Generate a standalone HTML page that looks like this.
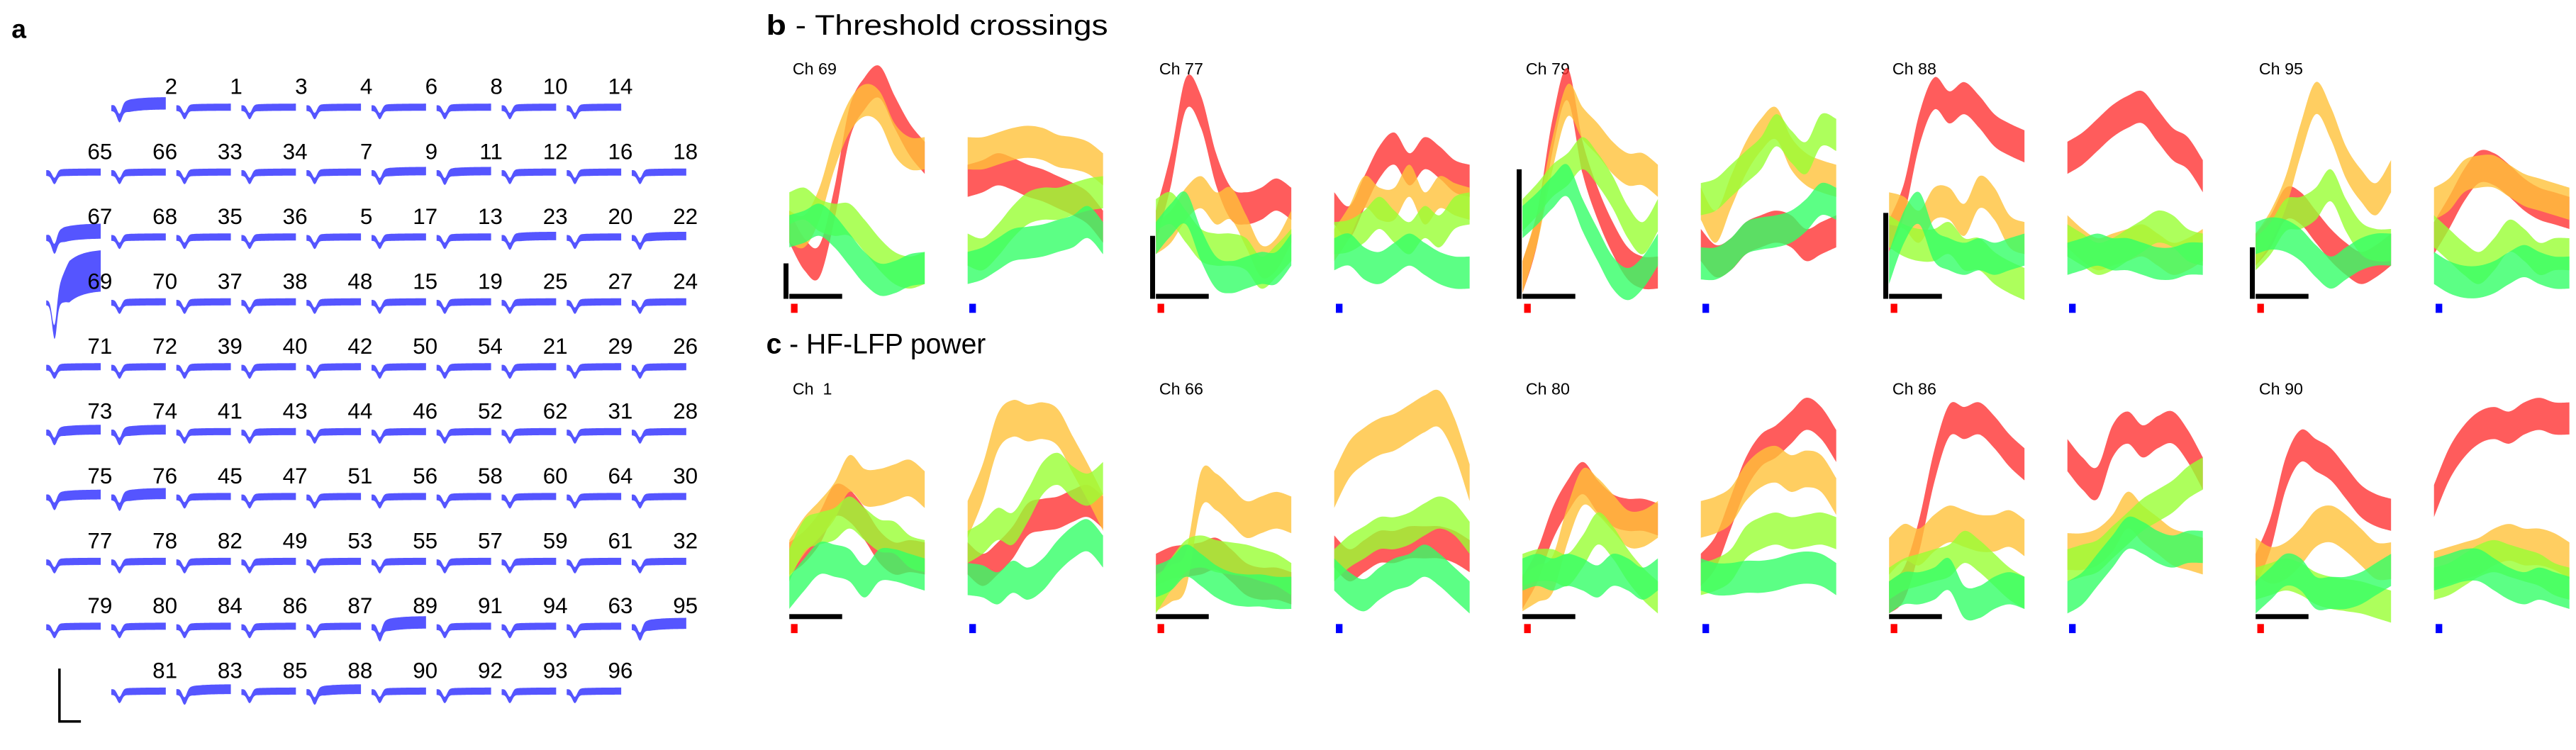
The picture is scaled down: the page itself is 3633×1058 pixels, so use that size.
<!DOCTYPE html>
<html><head><meta charset="utf-8">
<style>
html,body{margin:0;padding:0;background:#fff;}
svg{display:block;}
text{font-family:"Liberation Sans",sans-serif;fill:#000;white-space:pre;}
</style></head>
<body>
<svg id="fig" xmlns="http://www.w3.org/2000/svg" width="3633" height="1058" viewBox="0 0 1560 454.3">
  <text x="7" y="23" font-size="16" font-weight="bold">a</text>
  <text x="464" y="21" font-size="17" textLength="207" lengthAdjust="spacingAndGlyphs"><tspan font-weight="bold">b</tspan> - Threshold crossings</text>
  <text x="464" y="214" font-size="17" textLength="133" lengthAdjust="spacingAndGlyphs"><tspan font-weight="bold">c</tspan> - HF-LFP power</text>
  <g id="gridA"></g>
  <g id="panelB"></g>
  <g id="panelC"></g>
  <path d="M36 405 V437 H49" fill="none" stroke="#000" stroke-width="1.5"/>
</svg>
<script>
// ---------- Panel a: electrode layout ----------
const gridRow0 = [null,2,1,3,4,6,8,10,14,null];
const gridRow1 = [65,66,33,34,7,9,11,12,16,18];
const gridRow2 = [67,68,35,36,5,17,13,23,20,22];
const gridRow3 = [69,70,37,38,48,15,19,25,27,24];
const gridRow4 = [71,72,39,40,42,50,54,21,29,26];
const gridRow5 = [73,74,41,43,44,46,52,62,31,28];
const gridRow6 = [75,76,45,47,51,56,58,60,64,30];
const gridRow7 = [77,78,82,49,53,55,57,59,61,32];
const gridRow8 = [79,80,84,86,87,89,91,94,63,95];
const gridRow9 = [null,81,83,85,88,90,92,93,96,null];
// amplitude of slow component per channel (others default)
const bigAmpCh = [2,67,69,89,95,74,76,83,73,75,88,22,9,11,23];
const bigAmpVal = [5,7,20,5,4,3,4,3,3,3,3,2,2,2,2];

// ---------- Panel b: threshold crossings (values 0-100) ----------
const tcChannels = ["Ch 69","Ch 77","Ch 79","Ch 88","Ch 95"];
const tcScaleBar = [14,26,55,36,21];
const tc69_pre_red=[30,18,15,40,75,88,93,80,68,60];
const tc69_pre_yel=[30,28,40,62,78,85,82,68,62,62];
const tc69_pre_lim=[38,40,35,33,33,26,18,12,10,12];
const tc69_pre_grn=[28,30,33,28,20,12,7,8,11,12];
const tc69_post_red=[50,52,55,53,50,48,45,42,38,30];
const tc69_post_yel=[62,62,64,66,67,66,63,62,60,55];
const tc69_post_lim=[20,18,24,32,38,40,40,42,44,45];
const tc69_post_grn=[12,14,18,22,23,24,26,28,32,25];
const tc77_pre_red=[30,55,88,80,55,40,38,40,44,40];
const tc77_pre_yel=[25,30,40,45,38,40,28,15,18,30];
const tc77_pre_lim=[35,38,30,22,20,20,18,10,15,22];
const tc77_pre_grn=[25,33,38,22,10,8,10,12,12,20];
const tc77_post_red=[38,32,45,58,64,55,62,58,52,50];
const tc77_post_yel=[22,32,45,40,40,50,38,45,42,40];
const tc77_post_lim=[25,26,30,36,30,25,32,28,36,38];
const tc77_post_grn=[18,20,14,12,16,20,16,12,10,10];
const tc79_pre_red=[8,30,70,92,60,40,25,14,10,10];
const tc79_pre_yel=[8,30,62,85,75,68,60,55,55,50];
const tc79_pre_lim=[35,42,50,55,62,55,45,32,25,35];
const tc79_pre_grn=[32,38,45,50,35,22,10,5,10,20];
const tc79_post_red=[22,15,18,25,28,30,28,22,25,28];
const tc79_post_yel=[40,30,45,60,70,75,62,55,52,50];
const tc79_post_lim=[42,44,50,56,62,72,65,60,72,70];
const tc79_post_grn=[14,14,18,25,27,28,30,35,42,40];
const tc88_pre_red=[26,42,72,88,82,86,80,72,68,65];
const tc88_pre_yel=[38,36,30,40,40,33,45,40,28,25];
const tc88_pre_lim=[28,24,22,22,25,18,18,12,8,5];
const tc88_pre_grn=[12,30,38,22,18,16,18,16,18,20];
const tc88_post_red=[60,64,70,76,80,82,74,66,62,52];
const tc88_post_yel=[28,22,18,20,22,24,20,16,18,22];
const tc88_post_lim=[24,20,16,18,22,26,30,28,22,20];
const tc88_post_grn=[16,18,20,18,18,16,14,14,16,16];
const tc95_pre_red=[20,28,40,38,30,22,16,12,15,20];
const tc95_pre_yel=[20,30,45,68,86,75,58,48,42,52];
const tc95_pre_lim=[18,25,35,36,40,48,35,25,22,22];
const tc95_pre_grn=[25,27,26,22,15,10,14,18,20,20];
const tc95_post_red=[25,36,48,56,55,50,44,40,38,36];
const tc95_post_yel=[40,44,52,54,54,50,46,44,42,40];
const tc95_post_lim=[28,22,16,12,18,26,22,16,18,18];
const tc95_post_grn=[12,8,6,6,8,12,15,12,10,10];

// ---------- Panel c: HF-LFP power (values 0-100) ----------
const lfpChannels = ["Ch  1","Ch 66","Ch 80","Ch 86","Ch 90"];
const lf1_pre_red=[25,30,38,50,48,40,30,25,26,25];
const lf1_pre_yel=[25,35,42,50,62,56,56,58,60,55];
const lf1_pre_lim=[22,35,38,40,45,40,35,34,28,26];
const lf1_pre_grn=[10,18,25,24,22,15,22,22,20,18];
const lf1_post_red=[25,20,25,32,42,44,45,48,50,45];
const lf1_post_yel=[42,58,80,86,84,85,82,70,58,45];
const lf1_post_lim=[30,34,40,38,48,60,64,58,55,60];
const lf1_post_grn=[16,15,12,17,14,18,26,32,35,28];
const lf66_pre_red=[20,23,24,25,27,22,16,14,14,12];
const lf66_pre_yel=[10,14,20,55,54,48,42,44,46,44];
const lf66_pre_lim=[8,18,26,28,26,25,24,22,20,16];
const lf66_pre_grn=[15,18,24,20,15,12,11,11,10,10];
const lf66_post_red=[28,22,26,30,30,32,32,32,30,26];
const lf66_post_yel=[55,68,74,78,80,84,88,90,78,58];
const lf66_post_lim=[22,28,32,36,36,38,42,45,42,34];
const lf66_post_grn=[18,12,9,14,18,20,24,20,14,8];
const lf80_pre_red=[10,22,40,52,60,52,46,44,44,42];
const lf80_pre_yel=[10,14,18,40,56,52,45,38,38,42];
const lf80_pre_lim=[20,22,22,20,28,38,32,22,14,8];
const lf80_pre_grn=[18,20,18,20,18,15,20,18,14,18];
const lf80_post_red=[20,28,45,62,72,76,82,88,84,74];
const lf80_post_yel=[42,44,48,58,64,66,62,64,62,52];
const lf80_post_lim=[16,18,22,32,36,38,36,37,38,36];
const lf80_post_grn=[18,16,16,17,17,18,20,21,20,16];
const lf86_pre_red=[8,14,35,65,85,84,86,80,72,66];
const lf86_pre_yel=[26,32,30,36,40,38,36,36,38,34];
const lf86_pre_lim=[14,18,20,22,24,30,26,20,14,10];
const lf86_pre_grn=[8,12,12,14,18,6,6,10,12,10];
const lf86_post_red=[70,62,58,76,82,76,80,82,74,62];
const lf86_post_yel=[28,28,30,36,46,40,35,30,28,26];
const lf86_post_lim=[22,24,26,32,38,44,48,52,58,62];
const lf86_post_grn=[8,12,20,28,36,34,30,28,30,30];
const lf90_pre_red=[20,36,62,74,70,66,58,50,46,44];
const lf90_pre_yel=[26,22,24,30,38,40,36,30,24,24];
const lf90_pre_lim=[14,16,18,16,12,10,9,8,6,4];
const lf90_pre_grn=[8,14,20,18,10,10,10,12,16,20];
const lf90_post_red=[50,66,76,82,84,82,86,88,86,86];
const lf90_post_yel=[20,22,24,26,30,32,30,30,28,24];
const lf90_post_lim=[14,16,20,24,26,24,22,20,16,14];
const lf90_post_grn=[18,20,22,22,18,14,12,14,12,10];

const NS="http://www.w3.org/2000/svg";
function mk(tag, attrs, parent){
  const e=document.createElementNS(NS,tag);
  for(const k in attrs) e.setAttribute(k,attrs[k]);
  parent.appendChild(e); return e;
}
function smooth(pts){
  let d="";
  for(let i=0;i<pts.length-1;i++){
    const p0=pts[Math.max(0,i-1)],p1=pts[i],p2=pts[i+1],p3=pts[Math.min(pts.length-1,i+2)];
    const c1=[p1[0]+(p2[0]-p0[0])/6,p1[1]+(p2[1]-p0[1])/6];
    const c2=[p2[0]-(p3[0]-p1[0])/6,p2[1]-(p3[1]-p1[1])/6];
    d+=" C"+c1[0].toFixed(2)+" "+c1[1].toFixed(2)+" "+c2[0].toFixed(2)+" "+c2[1].toFixed(2)+" "+p2[0].toFixed(2)+" "+p2[1].toFixed(2);
  }
  return d;
}

// ---------- draw panel a ----------
const gA=document.getElementById("gridA");
const rows=[gridRow0,gridRow1,gridRow2,gridRow3,gridRow4,gridRow5,gridRow6,gridRow7,gridRow8,gridRow9];
function colX(c){return 28+39.4*c;}
function rowY(r){return 57+39.3*r;}
rows.forEach((row,r)=>{
  row.forEach((ch,c)=>{
    if(ch===null) return;
    const x0=colX(c), yb=rowY(r), yc=yb+8.5, w=33;
    const idx=bigAmpCh.indexOf(ch);
    const amp= idx>=0?bigAmpVal[idx]:1;
    const big = amp>=10;
    const dip = big?16:4.5+amp*0.3;
    const up=[],lo=[];
    const N=40;
    for(let i=0;i<=N;i++){
      const t=i/N;
      const dipv=dip*Math.exp(-Math.pow((t-0.15)/0.06,2));
      const rise=(big?amp:amp*0.6)*(1-Math.exp(-Math.max(0,t-0.17)/0.25));
      const spread= big? 3+ (t>0.12? amp*1.1*Math.min(1,(t-0.12)/0.3):0) : 3.5+amp*0.8*Math.min(1,t*3);
      const cy=yc+dipv-rise;
      up.push([x0+t*w,cy-spread/2]);
      lo.push([x0+t*w,cy+spread/2+(big?dipv*0.2:0)]);
    }
    const wf=mk("path",{d:"M"+up[0][0]+" "+up[0][1]+smooth(up)+" L"+lo[N][0]+" "+lo[N][1]+smooth(lo.slice().reverse())+" Z",fill:"#2a2aff","fill-opacity":"0.8"},gA);
    
    
    const lb=mk("text",{x:x0+40,y:yb,"font-size":"13.5","text-anchor":"end"},gA);
    lb.textContent=String(ch);
    
    
  });
});

// ---------- draw panels b & c ----------
const colors=["#ff3333","#ffc23a","#99ff33","#33ff66"];
const bandNames=["red","yellow","lime","green"];
function drawPanel(gid, chNames, seriesGetter, yBottom, yTop, scaleBars, prefix){
  const g=document.getElementById(gid);
  const yScale=v=>yBottom-(v/100)*(yBottom-yTop);
  chNames.forEach((name,k)=>{
    const base=478+222*k;
    const lab=mk("text",{x:base+2,y:yTop+5,"font-size":"10"},g);
    lab.textContent=name;
    
    
    ["pre","post"].forEach((epoch,s)=>{
      const x0=base+(s===0?0:108), w=82;
      const xScale=i=>x0+i*w/9;
      const series=seriesGetter(k,epoch);
      series.forEach((vals,b)=>{
        const hw = (prefix==="lfp" && b===1)?8:7;
        const up=vals.map((v,i)=>[xScale(i),yScale(v+hw)]);
        const lo=vals.map((v,i)=>[xScale(i),yScale(v-hw)]).reverse();
        const p=mk("path",{d:"M"+up[0][0]+" "+up[0][1]+smooth(up)+" L"+lo[0][0]+" "+lo[0][1]+smooth(lo)+" Z",fill:colors[b],"fill-opacity":"0.8"},g);
        
        
      });
      const m=mk("rect",{x:x0+1,y:yBottom+5,width:4,height:5.5,fill:s===0?"#ff0000":"#0000ff"},g);
      
      
    });
    const hb=mk("rect",{x:base,y:yBottom-1,width:32,height:3,fill:"#000"},g);
    
    
    if(scaleBars){
      const vb=mk("rect",{x:base-3.5,y:yScale(scaleBars[k]),width:3,height:yBottom+2-yScale(scaleBars[k]),fill:"#000"},g);
      
      
    }
  });
}
const tcData={
  "0pre":[tc69_pre_red,tc69_pre_yel,tc69_pre_lim,tc69_pre_grn],"0post":[tc69_post_red,tc69_post_yel,tc69_post_lim,tc69_post_grn],
  "1pre":[tc77_pre_red,tc77_pre_yel,tc77_pre_lim,tc77_pre_grn],"1post":[tc77_post_red,tc77_post_yel,tc77_post_lim,tc77_post_grn],
  "2pre":[tc79_pre_red,tc79_pre_yel,tc79_pre_lim,tc79_pre_grn],"2post":[tc79_post_red,tc79_post_yel,tc79_post_lim,tc79_post_grn],
  "3pre":[tc88_pre_red,tc88_pre_yel,tc88_pre_lim,tc88_pre_grn],"3post":[tc88_post_red,tc88_post_yel,tc88_post_lim,tc88_post_grn],
  "4pre":[tc95_pre_red,tc95_pre_yel,tc95_pre_lim,tc95_pre_grn],"4post":[tc95_post_red,tc95_post_yel,tc95_post_lim,tc95_post_grn]
};
const lfData={
  "0pre":[lf1_pre_red,lf1_pre_yel,lf1_pre_lim,lf1_pre_grn],"0post":[lf1_post_red,lf1_post_yel,lf1_post_lim,lf1_post_grn],
  "1pre":[lf66_pre_red,lf66_pre_yel,lf66_pre_lim,lf66_pre_grn],"1post":[lf66_post_red,lf66_post_yel,lf66_post_lim,lf66_post_grn],
  "2pre":[lf80_pre_red,lf80_pre_yel,lf80_pre_lim,lf80_pre_grn],"2post":[lf80_post_red,lf80_post_yel,lf80_post_lim,lf80_post_grn],
  "3pre":[lf86_pre_red,lf86_pre_yel,lf86_pre_lim,lf86_pre_grn],"3post":[lf86_post_red,lf86_post_yel,lf86_post_lim,lf86_post_grn],
  "4pre":[lf90_pre_red,lf90_pre_yel,lf90_pre_lim,lf90_pre_grn],"4post":[lf90_post_red,lf90_post_yel,lf90_post_lim,lf90_post_grn]
};
drawPanel("panelB",tcChannels,(k,e)=>tcData[k+e],179,40,tcScaleBar,"tc");
drawPanel("panelC",lfpChannels,(k,e)=>lfData[k+e],373,234,null,"lfp");
</script>
</body></html>
